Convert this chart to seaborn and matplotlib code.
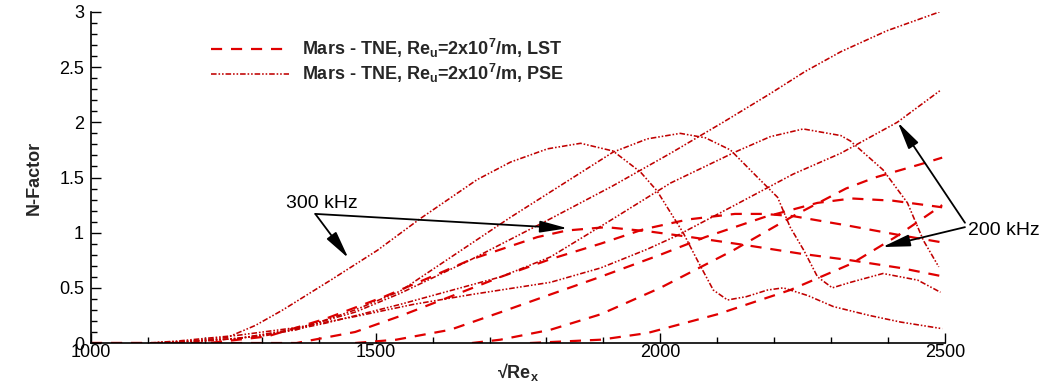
import matplotlib
matplotlib.use("Agg")
import matplotlib.pyplot as plt
from matplotlib.lines import Line2D
from matplotlib.ticker import MultipleLocator
import seaborn as sns

# ---- LST N-factor curves (sqrt(Re_x), N) ----
lst_300_x = [1000, 1207, 1310, 1412, 1515, 1584, 1669, 1784, 1836, 1905, 1982, 2053, 2159, 2246, 2334, 2422, 2490]
lst_300_n = [0, 0, 0.06, 0.22, 0.42, 0.57, 0.76, 0.96, 1.02, 1.05, 1.01, 0.96, 0.88, 0.81, 0.75, 0.68, 0.61]
lst_275_x = [1000, 1361, 1464, 1546, 1631, 1720, 1807, 1895, 1970, 2049, 2131, 2182, 2233, 2334, 2418, 2497]
lst_275_n = [0, 0, 0.10, 0.25, 0.42, 0.60, 0.76, 0.90, 1.03, 1.12, 1.17, 1.17, 1.15, 1.06, 0.98, 0.91]
lst_250_x = [1464, 1536, 1631, 1720, 1807, 1895, 2000, 2079, 2182, 2276, 2336, 2408, 2495]
lst_250_n = [0, 0.03, 0.12, 0.28, 0.44, 0.60, 0.80, 0.96, 1.14, 1.27, 1.31, 1.29, 1.23]
lst_225_x = [1669, 1719, 1807, 1895, 2000, 2128, 2233, 2326, 2377, 2457, 2495]
lst_225_n = [0, 0.03, 0.12, 0.26, 0.50, 0.84, 1.15, 1.40, 1.50, 1.62, 1.68]
lst_200_x = [1771, 1895, 1977, 2100, 2228, 2336, 2416, 2495]
lst_200_n = [0, 0.03, 0.09, 0.26, 0.48, 0.72, 0.97, 1.25]

# ---- PSE N-factor curves ----
pse_300_x = [1104, 1156, 1239, 1289, 1337, 1421, 1503, 1579, 1678, 1737, 1802, 1860, 1917, 1965,
             1994, 2023, 2040, 2065, 2093, 2118, 2151, 2188, 2216, 2259, 2304, 2367, 2422, 2495]
pse_300_n = [0, 0.01, 0.05, 0.16, 0.30, 0.57, 0.84, 1.13, 1.48, 1.64, 1.76, 1.81, 1.74, 1.55,
             1.38, 1.14, 1.00, 0.75, 0.48, 0.39, 0.42, 0.48, 0.50, 0.43, 0.33, 0.25, 0.19, 0.13]
pse_275_x = [1104, 1156, 1258, 1361, 1464, 1543, 1572, 1737, 1917, 1977, 2035, 2079, 2123, 2171,
             2206, 2228, 2252, 2276, 2302, 2334, 2391, 2452, 2492]
pse_275_n = [0, 0.01, 0.04, 0.12, 0.30, 0.47, 0.57, 1.14, 1.73, 1.85, 1.90, 1.86, 1.75, 1.50,
             1.32, 1.05, 0.84, 0.60, 0.50, 0.55, 0.63, 0.57, 0.46]
pse_250_x = [1104, 1207, 1310, 1412, 1543, 1720, 1807, 1912, 2018, 2131, 2193, 2251, 2317, 2334,
             2391, 2434, 2462, 2489]
pse_250_n = [0, 0.02, 0.07, 0.18, 0.35, 0.60, 0.78, 1.11, 1.45, 1.73, 1.87, 1.94, 1.88, 1.83,
             1.57, 1.27, 0.93, 0.69]
pse_225_x = [1104, 1156, 1258, 1361, 1464, 1543, 1669, 1801, 1915, 2018, 2110, 2193, 2254, 2317, 2398, 2490]
pse_225_n = [0, 0.01, 0.04, 0.13, 0.28, 0.45, 0.76, 1.11, 1.42, 1.72, 2.00, 2.26, 2.46, 2.64, 2.83, 3.00]
pse_200_x = [1104, 1156, 1258, 1361, 1464, 1566, 1669, 1807, 1895, 1977, 2028, 2131, 2233, 2317, 2416, 2492]
pse_200_n = [0, 0.02, 0.07, 0.14, 0.24, 0.35, 0.44, 0.55, 0.68, 0.85, 0.97, 1.25, 1.53, 1.72, 2.00, 2.29]

lst_curves = [(lst_300_x, lst_300_n), (lst_275_x, lst_275_n), (lst_250_x, lst_250_n),
              (lst_225_x, lst_225_n), (lst_200_x, lst_200_n)]
pse_curves = [(pse_300_x, pse_300_n), (pse_275_x, pse_275_n), (pse_250_x, pse_250_n),
              (pse_225_x, pse_225_n), (pse_200_x, pse_200_n)]

legend_labels = [r"Mars - TNE, Re$_\mathbf{u}$=2x10$^\mathbf{7}$/m, LST",
                 r"Mars - TNE, Re$_\mathbf{u}$=2x10$^\mathbf{7}$/m, PSE"]

sns.set_theme(style="white")
plt.rcParams["font.family"] = ["Liberation Sans", "DejaVu Sans"]
plt.rcParams["mathtext.fontset"] = "custom"
plt.rcParams["mathtext.rm"] = "Liberation Sans"
plt.rcParams["mathtext.bf"] = "Liberation Sans:bold"
plt.rcParams["mathtext.it"] = "Liberation Sans:italic"

LST_COLOR = "#e00000"
PSE_COLOR = "#c00000"
LST_STYLE = (0, (5, 4))
PSE_STYLE = (0, (3.5, 1.2, 1, 1.2, 1, 1.2))

fig = plt.figure(figsize=(10.47, 3.83), dpi=100)
ax = fig.add_axes([0.0869, 0.1044, 0.8157, 0.8643])

for xs, ns in lst_curves:
    sns.lineplot(x=xs, y=ns, ax=ax, color=LST_COLOR, linewidth=1.6, linestyle=LST_STYLE,
                 estimator=None, sort=False)
for xs, ns in pse_curves:
    sns.lineplot(x=xs, y=ns, ax=ax, color=PSE_COLOR, linewidth=1.15, linestyle=PSE_STYLE,
                 estimator=None, sort=False)

ax.set_xlim(1000, 2500)
ax.set_ylim(0, 3)
ax.xaxis.set_minor_locator(MultipleLocator(100))
ax.yaxis.set_minor_locator(MultipleLocator(0.1))
ax.set_xticks([1000, 1500, 2000, 2500])
ax.set_xticklabels(["1000", "1500", "2000", "2500"])
ax.set_yticks([0, 0.5, 1, 1.5, 2, 2.5, 3])
ax.set_yticklabels(["0", "0.5", "1", "1.5", "2", "2.5", "3"])

for side in ("top", "right"):
    ax.spines[side].set_visible(False)
for side in ("left", "bottom"):
    ax.spines[side].set_visible(True)
    ax.spines[side].set_color("black")
    ax.spines[side].set_linewidth(1.2)

ax.tick_params(which="both", direction="in", color="black", width=1.0,
               labelsize=13, labelcolor="black", top=False, right=False, left=True, bottom=True)
ax.tick_params(which="major", length=7)
ax.tick_params(which="minor", length=4)
ax.tick_params(axis="x", which="both", pad=1)
ax.tick_params(axis="y", which="both", pad=5)

ax.set_xlabel("√Re$_\\mathbf{x}$", fontsize=13, fontweight="bold", labelpad=0)
ax.set_ylabel("N-Factor", fontsize=13, fontweight="bold", labelpad=12)

handles = [Line2D([], [], color=LST_COLOR, linewidth=1.6, linestyle=LST_STYLE),
           Line2D([], [], color=PSE_COLOR, linewidth=1.15, linestyle=PSE_STYLE)]
leg = ax.legend(handles, legend_labels, loc="upper left", bbox_to_anchor=(0.141, 0.925),
                frameon=False, fontsize=13, handlelength=4.3, handletextpad=0.7,
                labelspacing=0.12, borderpad=0, borderaxespad=0)
for t in leg.get_texts():
    t.set_fontweight("bold")

arrow_kw = dict(arrowstyle="-|>,head_length=1.4,head_width=0.3", color="black", lw=1.3,
                shrinkA=0, shrinkB=0)
# 300 kHz annotation
ax.text(1405, 1.19, "300 kHz", fontsize=14, ha="center", va="bottom", color="black")
ax.annotate("", xy=(1452, 0.77), xytext=(1394, 1.17), arrowprops=arrow_kw)
ax.annotate("", xy=(1837, 1.04), xytext=(1394, 1.17), arrowprops=arrow_kw)
# 200 kHz annotation
ax.text(2541, 1.02, "200 kHz", fontsize=14, ha="left", va="center", color="black", clip_on=False)
ax.annotate("", xy=(2417, 2.0), xytext=(2535, 1.09), arrowprops=arrow_kw, annotation_clip=False)
ax.annotate("", xy=(2390, 0.87), xytext=(2535, 1.05), arrowprops=arrow_kw, annotation_clip=False)

fig.savefig("out.png", dpi=100)
